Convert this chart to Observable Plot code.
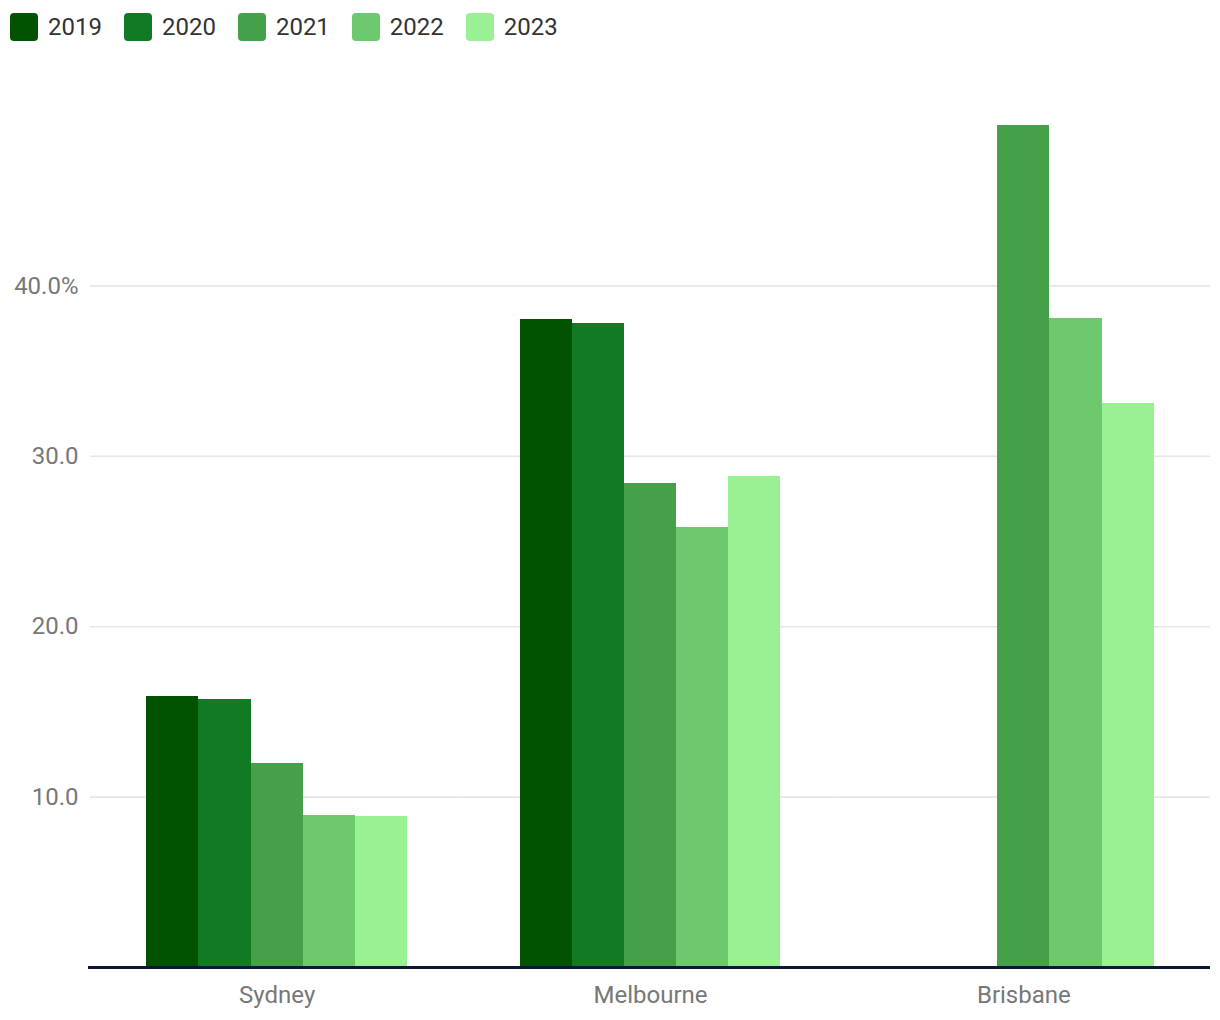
<!DOCTYPE html>
<html><head><meta charset="utf-8">
<script src="https://cdn.jsdelivr.net/npm/d3@7"></script>
<script src="https://cdn.jsdelivr.net/npm/@observablehq/plot@0.6"></script>
<style>
html,body{margin:0;padding:0;background:#fff;font-family:Roboto,sans-serif;overflow:hidden;}
#legend{height:60px;box-sizing:border-box;padding:13px 0 0 10px;display:flex;align-items:flex-start;}
.item{display:flex;align-items:center;margin-right:22px;height:28px;}
.sw{width:28px;height:28px;border-radius:4px;margin-right:10px;}
.lb{font-size:24px;color:#333;line-height:28px;}
#chart svg{display:block;}
</style></head><body>
<div id="legend"></div><div id="chart"></div>
<script>
const cities = ["Sydney", "Melbourne", "Brisbane"];
const years = ["2019", "2020", "2021", "2022", "2023"];
const colors = ["#015201", "#107a25", "#45a149", "#6cc96e", "#99f193"];
const sydney = [15.9, 15.7, 12.0, 8.9, 8.85];
const melbourne = [38.0, 37.8, 28.4, 25.8, 28.8];
const brisbane = [null, null, 49.4, 38.1, 33.1];
const yTicks = [10, 20, 30, 40];
const yTickLabels = ["10.0", "20.0", "30.0", "40.0%"];

const data = [];
[sydney, melbourne, brisbane].forEach((vals, i) => vals.forEach((v, j) => {
  if (v != null) data.push({city: cities[i], year: years[j], value: v});
}));

const legend = document.getElementById("legend");
years.forEach((y, i) => {
  const it = document.createElement("div"); it.className = "item";
  const sw = document.createElement("div"); sw.className = "sw"; sw.style.background = colors[i];
  const lb = document.createElement("span"); lb.className = "lb"; lb.textContent = y;
  it.appendChild(sw); it.appendChild(lb); legend.appendChild(it);
});

const chart = Plot.plot({
  width: 1220, height: 960,
  marginLeft: 90, marginRight: 10, marginTop: 55, marginBottom: 53,
  style: {fontFamily: "Roboto, sans-serif", fontSize: "24px", color: "#777", background: "#fff", overflow: "visible"},
  fx: {domain: cities, padding: 0, round: false, label: null, axis: "bottom", tickSize: 0, tickPadding: 18},
  x: {domain: years, paddingInner: 0, paddingOuter: 1.08, round: false, axis: null},
  y: {domain: [0, 50], ticks: yTicks, tickFormat: d => yTickLabels[yTicks.indexOf(d)], label: null, tickSize: 0, tickPadding: 12},
  color: {domain: years, range: colors},
  marks: [
    Plot.ruleY(yTicks, {stroke: "#e6e6e6", strokeWidth: 1.6}),
    Plot.barY(data, {fx: "city", x: "year", y: "value", fill: "year", shapeRendering: "crispEdges"}),
    Plot.ruleY([0], {stroke: "#0d1733", strokeWidth: 3, insetLeft: -2})
  ]
});
document.getElementById("chart").appendChild(chart);
</script>
</body></html>
